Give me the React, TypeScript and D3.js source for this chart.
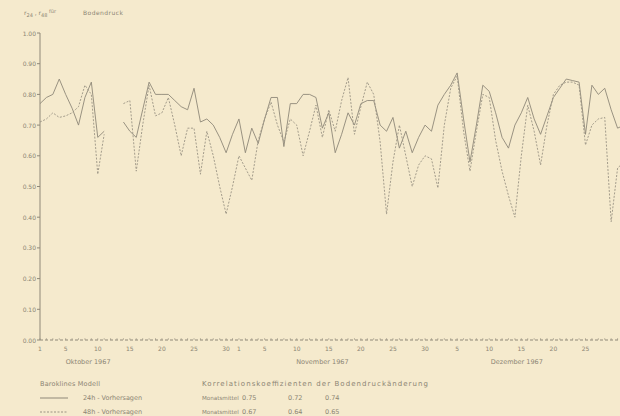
import React from "react";
import * as d3 from "d3";

// days from 1 Oct 1967 (index 0) to 31 Dec 1967 (index 91)
const dayCount = 92;

// 24h forecasts (solid)
const r24: (number | null)[] = [
  0.77, 0.79, 0.8, 0.85, 0.8, 0.755, 0.7, 0.79, 0.84, 0.66, 0.68, null, null,
  0.71, 0.68, 0.66, 0.75, 0.84, 0.8, 0.8, 0.8, 0.78, 0.76, 0.75, 0.82, 0.71,
  0.72, 0.7, 0.66, 0.61, 0.67, 0.72, 0.61, 0.69, 0.64, 0.72, 0.79, 0.79, 0.63,
  0.77, 0.77, 0.8, 0.8, 0.79, 0.69, 0.74, 0.61, 0.67, 0.74, 0.7, 0.77, 0.78,
  0.78, 0.7, 0.68, 0.725, 0.625, 0.68, 0.61, 0.66, 0.7, 0.68, 0.765, 0.8, 0.83,
  0.87, 0.72, 0.58, 0.7, 0.83, 0.81, 0.74, 0.66, 0.625, 0.7, 0.74, 0.79, 0.72,
  0.67, 0.73, 0.79, 0.82, 0.85, 0.845, 0.84, 0.67, 0.83, 0.8, 0.82, 0.75, 0.69,
  0.7,
];

// 48h forecasts (dashed)
const r48: (number | null)[] = [
  0.71, 0.72, 0.74, 0.725, 0.73, 0.74, 0.76, 0.83, 0.8, 0.54, 0.67, null, null,
  0.77, 0.78, 0.55, 0.7, 0.83, 0.73, 0.74, 0.79, 0.7, 0.6, 0.69, 0.69, 0.54,
  0.68, 0.6, 0.5, 0.41, 0.5, 0.6, 0.56, 0.52, 0.65, 0.72, 0.775, 0.7, 0.645,
  0.72, 0.7, 0.6, 0.68, 0.765, 0.66, 0.75, 0.68, 0.78, 0.855, 0.67, 0.76, 0.84,
  0.8, 0.645, 0.41, 0.58, 0.7, 0.6, 0.5, 0.57, 0.6, 0.59, 0.495, 0.7, 0.82,
  0.86, 0.68, 0.55, 0.68, 0.8, 0.79, 0.65, 0.55, 0.47, 0.4, 0.6, 0.765, 0.68,
  0.57, 0.7, 0.8, 0.83, 0.84, 0.84, 0.83, 0.635, 0.7, 0.72, 0.725, 0.385, 0.56,
  0.58,
];

const yTicks = [0, 0.1, 0.2, 0.3, 0.4, 0.5, 0.6, 0.7, 0.8, 0.9, 1.0];
// [day index, label]
const xTicks: [number, string][] = [
  [0, "1"], [4, "5"], [9, "10"], [14, "15"], [19, "20"], [24, "25"], [29, "30"],
  [31, "1"], [35, "5"], [40, "10"], [45, "15"], [50, "20"], [55, "25"], [60, "30"],
  [65, "5"], [70, "10"], [75, "15"], [80, "20"], [85, "25"],
];
const months: [number, string][] = [
  [7.5, "Oktober 1967"], [44, "November 1967"], [74.3, "Dezember 1967"],
];
const means24 = ["0.75", "0.72", "0.74"];
const means48 = ["0.67", "0.64", "0.65"];

export default function App() {
  const width = 620;
  const height = 416;
  const ink = "#8f8878";
  const ink2 = "#9a9383";
  const txt = "#8c8574";
  const font = "DejaVu Sans, sans-serif";
  const fs = 6;
  const meanX = [242, 288, 325];
  const sp = "spacing";

  const x = d3.scaleLinear().domain([0, 91]).range([40, 624]);
  const y = d3.scaleLinear().domain([0, 1]).range([340, 33]);

  const line = d3
    .line<number | null>()
    .defined((d) => d !== null)
    .x((_, i) => x(i))
    .y((d) => y(d as number));

  return (
    <svg
      width={width}
      height={height}
      style={{ position: "absolute", left: 0, top: 0 }}
    >
      <rect width={width} height={height} fill="#f5eacd" />

      {/* title */}
      <text x={24} y={15} fontSize={fs} fill={txt} fontFamily={font}>
        r<tspan fontSize={5} dy={2}>24</tspan>
        <tspan dy={-2}> , r</tspan>
        <tspan fontSize={5} dy={2}>48</tspan>
        <tspan dy={-4} fontSize={5}> für</tspan>
      </text>
      <text x={83} y={15} fontSize={fs} fill={txt} fontFamily={font} textLength={40} lengthAdjust={sp}>
        Bodendruck
      </text>

      {/* y axis */}
      <line x1={40} x2={40} y1={y(1)} y2={y(0)} stroke={ink} strokeWidth={1} />
      {yTicks.map((t) => (
        <g key={t}>
          <line x1={40} x2={37} y1={y(t)} y2={y(t)} stroke={ink} />
          <text
            x={36}
            y={y(t) + 2.5}
            textAnchor="end"
            fontSize={fs}
            fill={txt}
            fontFamily={font}
          >
            {t.toFixed(2)}
          </text>
        </g>
      ))}

      {/* x axis */}
      <line
        x1={40}
        x2={width}
        y1={y(0)}
        y2={y(0)}
        stroke={ink}
        strokeDasharray="3,2"
      />
      {d3.range(dayCount).map((i) => (
        <line key={i} x1={x(i)} x2={x(i)} y1={y(0)} y2={y(0) - 2} stroke={ink} strokeWidth={0.5} />
      ))}
      {xTicks.map(([i, l], k) => (
        <text
          key={k}
          x={x(i)}
          y={351}
          textAnchor="middle"
          fontSize={fs}
          fill={txt}
          fontFamily={font}
        >
          {l}
        </text>
      ))}
      {months.map(([i, l]) => (
        <text
          key={l}
          x={x(i)}
          y={364}
          textAnchor="middle"
          fontSize={6.5}
          fill={txt}
          fontFamily={font}
        >
          {l}
        </text>
      ))}

      {/* series */}
      <path d={line(r24) ?? ""} fill="none" stroke={ink} strokeWidth={0.9} />
      <path
        d={line(r48) ?? ""}
        fill="none"
        stroke={ink2}
        strokeWidth={0.9}
        strokeDasharray="2,1.5"
      />

      {/* legend */}
      <g fontSize={6.5} fill={txt} fontFamily={font}>
        <text x={40} y={386} textLength={60} lengthAdjust={sp}>Baroklines Modell</text>
        <text x={202} y={386} textLength={226} lengthAdjust={sp} fontSize={7}>
          Korrelationskoeffizienten  der  Bodendruckänderung
        </text>
        <line x1={40} x2={68} y1={398} y2={398} stroke={ink} />
        <text x={83} y={400} textLength={59} lengthAdjust={sp}>24h - Vorhersagen</text>
        <text x={202} y={400} fontSize={5.6}>Monatsmittel</text>
        {means24.map((m, k) => (
          <text key={k} x={meanX[k]} y={400}>{m}</text>
        ))}
        <line x1={40} x2={68} y1={412} y2={412} stroke={ink2} strokeDasharray="2,1.5" />
        <text x={83} y={414} textLength={59} lengthAdjust={sp}>48h - Vorhersagen</text>
        <text x={202} y={414} fontSize={5.6}>Monatsmittel</text>
        {means48.map((m, k) => (
          <text key={k} x={meanX[k]} y={414}>{m}</text>
        ))}
      </g>
    </svg>
  );
}
